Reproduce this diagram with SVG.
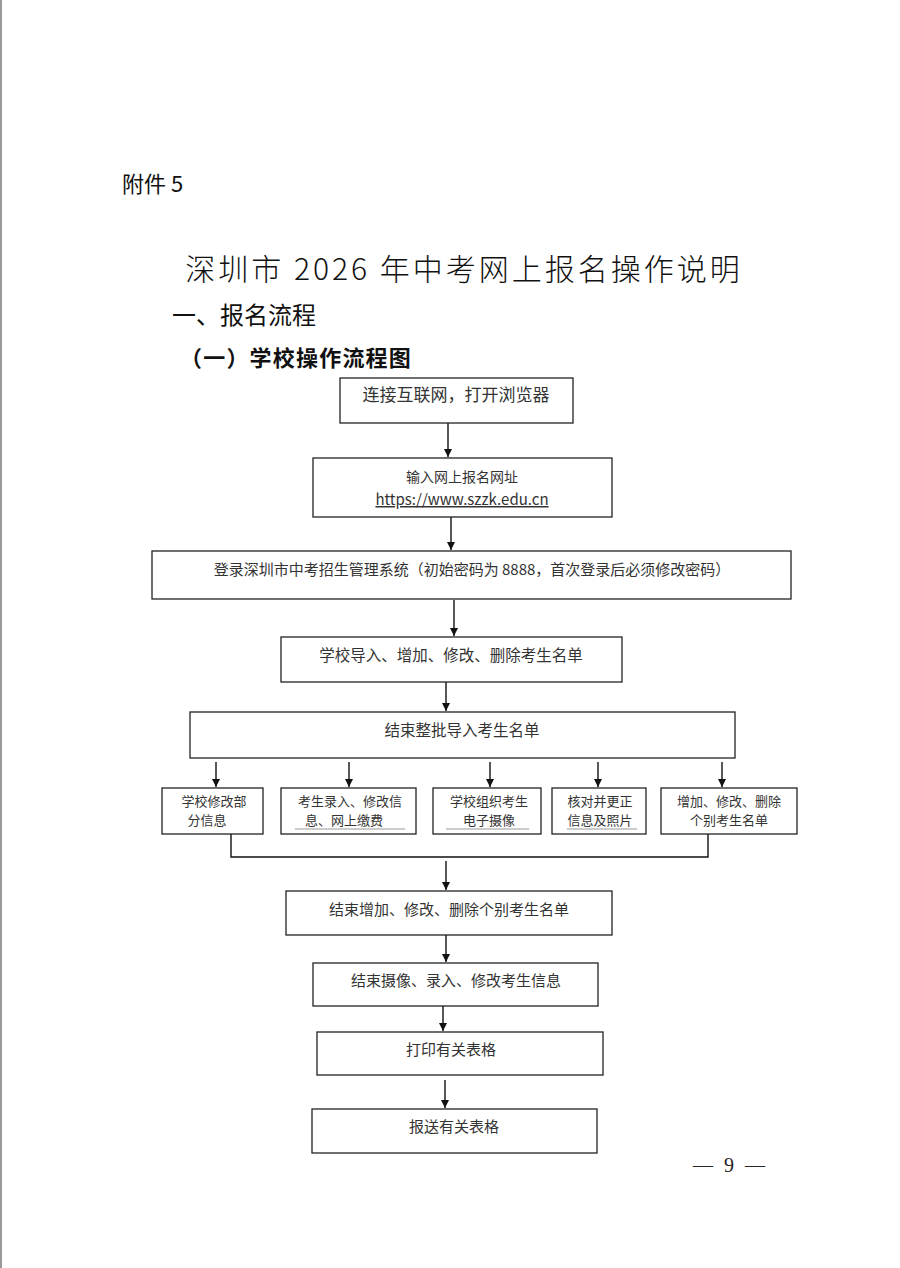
<svg xmlns="http://www.w3.org/2000/svg" width="900" height="1268" viewBox="0 0 900 1268">
<defs>
<marker id="ah" viewBox="0 0 10 10" refX="10" refY="5" markerWidth="8" markerHeight="8" orient="auto" markerUnits="userSpaceOnUse"><path d="M0,0 L10,5 L0,10 z" fill="#111"/></marker>
<style>
.bx{fill:#fff;stroke:#222;stroke-width:1.3}
.t{font-family:"Noto Sans CJK SC","Liberation Sans",sans-serif;fill:#333;text-anchor:middle}
.ln{stroke:#111;stroke-width:1.4;fill:none}
.ar{stroke:#111;stroke-width:1.4;fill:none;marker-end:url(#ah)}
.ul{stroke:#999;stroke-width:1}
</style>
</defs>
<rect width="900" height="1268" fill="#fff"/>
<rect x="0" y="0" width="2" height="1268" fill="#999"/>
<text x="122" y="192" font-family="Noto Sans CJK SC,Liberation Sans,sans-serif" font-size="22" fill="#111">附件 5</text>
<text x="464" y="280" font-family="Noto Sans CJK SC,sans-serif" font-size="30" font-weight="300" fill="#111" text-anchor="middle" letter-spacing="3">深圳市 2026 年中考网上报名操作说明</text>
<text x="172" y="324" font-family="Noto Sans CJK SC,sans-serif" font-size="24" fill="#111">一、报名流程</text>
<text x="180" y="366" font-family="Noto Sans CJK SC,sans-serif" font-size="22" font-weight="bold" fill="#111" letter-spacing="1.2">（一）学校操作流程图</text>

<g id="connectors">
<line class="ar" x1="448" y1="423" x2="448" y2="457"/>
<line class="ar" x1="451" y1="517" x2="451" y2="550"/>
<line class="ar" x1="454" y1="600" x2="454" y2="636"/>
<line class="ar" x1="446" y1="682" x2="446" y2="711"/>
<line class="ar" x1="216" y1="762" x2="216" y2="787"/>
<line class="ar" x1="349" y1="762" x2="349" y2="787"/>
<line class="ar" x1="490" y1="762" x2="490" y2="787"/>
<line class="ar" x1="598" y1="762" x2="598" y2="787"/>
<line class="ar" x1="722" y1="762" x2="722" y2="787"/>
<polyline class="ln" points="231,834 231,857 708,857 708,834"/>
<line class="ar" x1="446" y1="861" x2="446" y2="890"/>
<line class="ar" x1="446" y1="935" x2="446" y2="962"/>
<line class="ar" x1="443" y1="1006" x2="443" y2="1031"/>
<line class="ar" x1="445" y1="1080" x2="445" y2="1108"/>
</g>

<g id="n1"><rect class="bx" x="340" y="378" width="233" height="45"/><text class="t" x="456" y="401" font-size="17">连接互联网，打开浏览器</text></g>
<g id="n2"><rect class="bx" x="313" y="458" width="299" height="59"/><text class="t" x="462" y="482" font-size="14">输入网上报名网址</text><text class="t" x="462" y="505" font-size="15" text-decoration="underline" font-family="Open Sans,Liberation Sans,sans-serif">https://www.szzk.edu.cn</text></g>
<g id="n3"><rect class="bx" x="152" y="551" width="639" height="48"/><text class="t" x="472" y="575" font-size="15">登录深圳市中考招生管理系统（初始密码为 8888，首次登录后必须修改密码）</text></g>
<g id="n4"><rect class="bx" x="281" y="637" width="341" height="45"/><text class="t" x="451" y="661" font-size="15.5">学校导入、增加、修改、删除考生名单</text></g>
<g id="n5"><rect class="bx" x="190" y="712" width="545" height="46"/><text class="t" x="462" y="736" font-size="15.5">结束整批导入考生名单</text></g>
<g id="n6a"><rect class="bx" x="162" y="788" width="101" height="46"/><text class="t" x="214" y="806" font-size="13">学校修改部</text><text class="t" x="207" y="825" font-size="13">分信息</text></g>
<g id="n6b"><rect class="bx" x="281" y="788" width="135" height="46"/><text class="t" x="350" y="806" font-size="13">考生录入、修改信</text><text class="t" x="344" y="825" font-size="13">息、网上缴费</text><line class="ul" x1="295" y1="829" x2="405" y2="829"/></g>
<g id="n6c"><rect class="bx" x="433" y="788" width="108" height="46"/><text class="t" x="489" y="806" font-size="13">学校组织考生</text><text class="t" x="489" y="825" font-size="13">电子摄像</text><line class="ul" x1="446" y1="829" x2="529" y2="829"/></g>
<g id="n6d"><rect class="bx" x="552" y="788" width="94" height="46"/><text class="t" x="600" y="806" font-size="13">核对并更正</text><text class="t" x="600" y="825" font-size="13">信息及照片</text><line class="ul" x1="567" y1="829" x2="637" y2="829"/></g>
<g id="n6e"><rect class="bx" x="661" y="788" width="136" height="46"/><text class="t" x="729" y="806" font-size="13">增加、修改、删除</text><text class="t" x="729" y="825" font-size="13">个别考生名单</text></g>
<g id="n7"><rect class="bx" x="286" y="891" width="326" height="44"/><text class="t" x="449" y="915" font-size="15">结束增加、修改、删除个别考生名单</text></g>
<g id="n8"><rect class="bx" x="313" y="963" width="285" height="43"/><text class="t" x="456" y="986" font-size="15">结束摄像、录入、修改考生信息</text></g>
<g id="n9"><rect class="bx" x="317" y="1032" width="286" height="43"/><text class="t" x="451" y="1055" font-size="15">打印有关表格</text></g>
<g id="n10"><rect class="bx" x="312" y="1109" width="285" height="44"/><text class="t" x="454" y="1132" font-size="15">报送有关表格</text></g>
<text x="729" y="1172" font-family="Liberation Serif,serif" font-size="20" fill="#222" text-anchor="middle" word-spacing="6">— 9 —</text>
</svg>
